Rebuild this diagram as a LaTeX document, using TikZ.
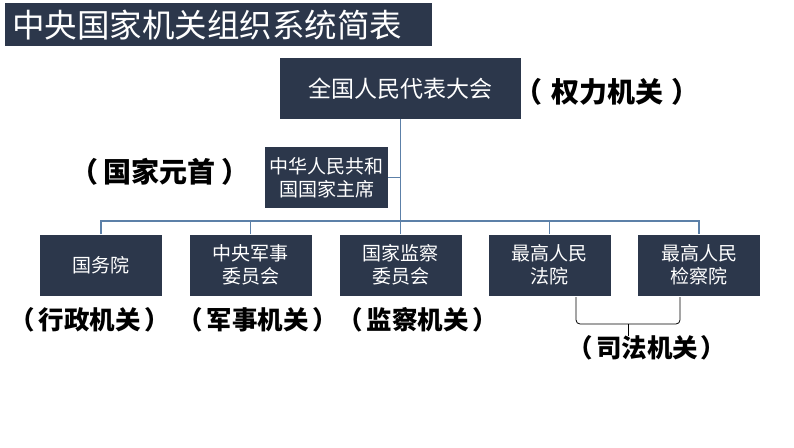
\documentclass[tikz,border=0pt]{standalone}
\usepackage{fontspec}
\newfontfamily\cjk{Noto Sans CJK SC}
\usetikzlibrary{
    calc,           % Bus line points.
    positioning     % Relative positioning of nodes.
}
\definecolor{organfill}{RGB}{44,55,75}
\definecolor{linkblue}{RGB}{92,128,168}
\newcommand{\rolename}[2][0.3em]{（\hspace{#1}#2\hspace{#1}）}

\begin{document}
\begin{tikzpicture}[x=1pt, y=-1pt,
    organ/.style={fill=organfill, text=white, inner sep=0pt, align=center,
        minimum width=122pt, minimum height=61pt,
        font=\cjk\fontsize{19}{23}\selectfont},
    role/.style={text=black, inner sep=0pt,
        font=\cjk\bfseries\fontsize{28}{32}\selectfont},
    smallrole/.style={role, font=\cjk\bfseries\fontsize{25.5}{30}\selectfont},
    link/.style={draw=linkblue, line width=1.1pt},
    brace/.style={draw=black, line width=0.8pt, rounded corners=4pt}]
    \useasboundingbox (0,0) rectangle (794,447);
    \node[fill=organfill, text=white, anchor=north west, inner sep=0pt,
        minimum width=427pt, minimum height=43pt, text width=413pt,
        font=\cjk\fontsize{32.5}{36}\selectfont] (title) at (5,3)
        {中央国家机关组织系统简表};
    \node[organ, minimum width=241pt, font=\cjk\fontsize{23}{27}\selectfont]
        (npc) at (400.5,88.5) {全国人民代表大会};
    \node[organ, minimum width=123pt] (head) at (326.5,177.5)
        {中华人民共和\\国国家主席};
    \node[organ] (council) at (101,265) {国务院};
    \node[organ] (military) at (250.5,265) {中央军事\\委员会};
    \node[organ] (supervision) at (400.5,265) {国家监察\\委员会};
    \node[organ] (court) at (549.5,265) {最高人民\\法院};
    \node[organ] (procuratorate) at (699,265) {最高人民\\检察院};
    % roles
    \node[role] (powerlbl) at (607,92) {\rolename{权力机关}};
    \node[role] (headlbl) at (160,172) {\rolename[0.2em]{国家元首}};
    \node[smallrole] (councillbl) at (90,320) {\rolename[0.15em]{行政机关}};
    \node[smallrole] (militarylbl) at (258,320) {\rolename[0.15em]{军事机关}};
    \node[smallrole] (supervisionlbl) at (418,320) {\rolename[0.15em]{监察机关}};
    \node[smallrole] (judiciallbl) at (647,348) {\rolename[0.1em]{司法机关}};
    % tree
    \coordinate (bus) at (400.5,221);
    \draw[link] (npc.south) -- (bus);
    \draw[link] (head.east) -- (head.east -| npc.south);
    \draw[link] (council.north) |- (bus) -| (procuratorate.north);
    \foreach \n in {military, supervision, court}
        \draw[link] (\n.north) -- (\n.north |- bus);
    % judicial brace
    \coordinate (bl) at (576,297);
    \coordinate (br) at (680,297);
    \coordinate (bm) at (628,324);
    \draw[brace] (bl) |- (bm) -| (br);
    \draw[brace] (bm) -- ++(0,12);
\end{tikzpicture}
\end{document}
